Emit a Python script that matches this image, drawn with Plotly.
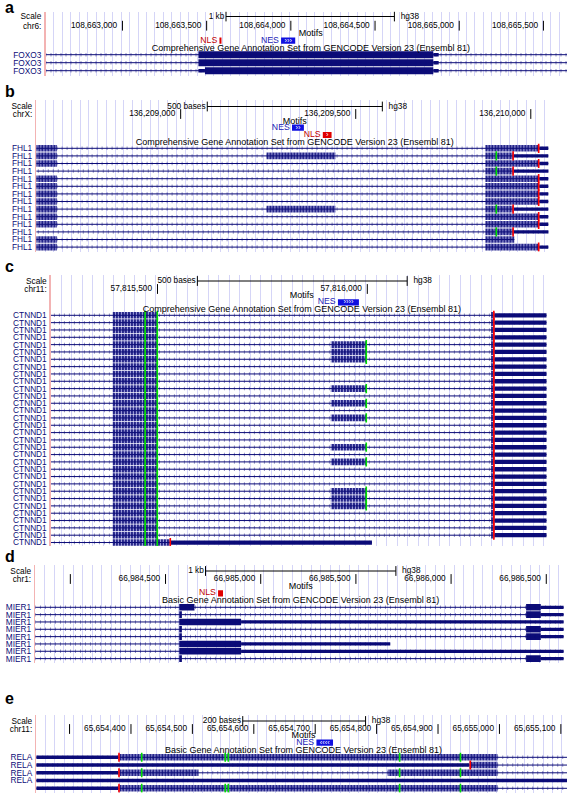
import plotly.graph_objects as go

W, H = 567, 793
NAVY = "#0c0c78"
GRID_COLOR = "#d5d5f7"
PINK = "#f3b3b3"
FONT = "Liberation Sans, Arial, Helvetica, sans-serif"
FS = 8.3
FS_TITLE = 9.0
MOTIF_LABEL_COLORS = {"NLS": "#c00000", "NES": "#1a1ab4"}
MOTIF_BOX_COLORS = {"NLS": "#e00000", "NES": "#1010e0"}
CODON_COLORS = {"M": "#00dd00", "*": "#ff0000"}

# ---------------- Panel a : FOXO3 ----------------
A_CHROM = "chr6:"
A_VIEW = [108662543, 108665640]
A_TICKS = [108663000, 108663500, 108664000, 108664500, 108665000, 108665500]
A_TICK_LABELS = ["108,663,000", "108,663,500", "108,664,000", "108,664,500", "108,665,000", "108,665,500"]
A_SCALE = [108663615, 108664615]
A_SCALE_LABEL = "1 kb"
A_CENTER = 108664119
A_TRACK = "Comprehensive Gene Annotation Set from GENCODE Version 23 (Ensembl 81)"
A_MOTIF_NAMES = ["NLS", "NES"]
A_MOTIF_START = [108663576, 108663942]
A_MOTIF_END = [108663588, 108664026]
A_MOTIF_ROW = [0, 0]
A_MOTIF_GLYPH = ["", "›››"]
A_GENES = ["FOXO3", "FOXO3", "FOXO3"]
A_TX_START = [108559835, 108559835, 108559835]
A_TX_END = [108684774, 108684774, 108684774]
A_CDS_START = [108663451, 108663451, 108663490]
A_CDS_END = [108664846, 108664846, 108664846]
A_EXONS = [[[108663451, 108664878]], [[108663451, 108664878]], [[108663451, 108664878]]]
A_CODONS = []

# ---------------- Panel b : FHL1 ----------------
B_CHROM = "chrX:"
B_VIEW = [136208588, 136210052]
B_TICKS = [136209000, 136209500, 136210000]
B_TICK_LABELS = ["136,209,000", "136,209,500", "136,210,000"]
B_SCALE = [136209076, 136209576]
B_SCALE_LABEL = "500 bases"
B_CENTER = 136209326
B_TRACK = "Comprehensive Gene Annotation Set from GENCODE Version 23 (Ensembl 81)"
B_MOTIF_NAMES = ["NES", "NLS"]
B_MOTIF_START = [136209318, 136209406]
B_MOTIF_END = [136209352, 136209431]
B_MOTIF_ROW = [0, 1]
B_MOTIF_GLYPH = ["››", "›"]
B_GENES = ["FHL1"] * 14
B_TX_START = [136208560, 136208560, 136208560, 136188000, 136208560, 136208560, 136208560,
              136208560, 136208560, 136208560, 136208560, 136188000, 136208560, 136208560]
B_TX_END = [136210050, 136210050, 136210050, 136210050, 136210050, 136210050, 136210050,
            136210050, 136210050, 136210050, 136210050, 136210050, 136209953, 136210050]
B_CDS_START = [136208560, 136208560, 136208560, 136209870, 136208560, 136208560, 136208560,
               136208560, 136208560, 136208560, 136208560, 136209870, 136208560, 136208560]
B_CDS_END = [136210024, 136209951, 136210024, 136209951, 136210024, 136210024, 136210024,
             136210024, 136209951, 136210024, 136210024, 136209951, 136209953, 136210024]
B_EXONS = [
    [[136208560, 136208647], [136209870, 136210050]],
    [[136208560, 136208647], [136209245, 136209442], [136209870, 136210050]],
    [[136208560, 136208647], [136209870, 136210050]],
    [[136209870, 136210050]],
    [[136208560, 136208647], [136209870, 136210050]],
    [[136208560, 136208647], [136209870, 136210050]],
    [[136208560, 136208647], [136209870, 136210050]],
    [[136208560, 136208647], [136209870, 136210050]],
    [[136208560, 136208647], [136209245, 136209442], [136209870, 136210050]],
    [[136208560, 136208647], [136209870, 136210050]],
    [[136208560, 136208647], [136209870, 136210050]],
    [[136209870, 136210050]],
    [[136208560, 136208647], [136209870, 136209953]],
    [[136208560, 136208647], [136209870, 136210050]],
]
B_CODONS = [
    [0, 136210021, "*"], [1, 136209900, "M"], [1, 136209948, "*"], [2, 136210021, "*"],
    [3, 136209900, "M"], [3, 136209948, "*"], [4, 136210021, "*"], [5, 136210021, "*"],
    [6, 136210021, "*"], [7, 136210021, "*"], [8, 136209900, "M"], [8, 136209948, "*"],
    [9, 136210021, "*"], [10, 136210021, "*"], [11, 136209900, "M"], [11, 136209948, "*"],
    [13, 136210021, "*"],
]

# ---------------- Panel c : CTNND1 ----------------
C_CHROM = "chr11:"
C_VIEW = [57815246, 57816427]
C_TICKS = [57815500, 57816000]
C_TICK_LABELS = ["57,815,500", "57,816,000"]
C_SCALE = [57815595, 57816095]
C_SCALE_LABEL = "500 bases"
C_CENTER = 57815844
C_TRACK = "Comprehensive Gene Annotation Set from GENCODE Version 23 (Ensembl 81)"
C_MOTIF_NAMES = ["NES"]
C_MOTIF_START = [57815930]
C_MOTIF_END = [57815980]
C_MOTIF_ROW = [0]
C_MOTIF_GLYPH = ["››››"]
C_GENES = ["CTNND1"] * 32
C_TX_START = [57753000] * 32
C_TX_END = [57818000] * 31 + [57816011]
C_CDS_START = [57815393] * 32
C_CDS_END = [57816303] * 31 + [57815532]
C_MIDDLE_EXON_ROWS = [4, 5, 6, 10, 12, 14, 18, 20, 24, 25, 26]
C_EXON_A = [57815393, 57815501]
C_EXON_B = [57815913, 57815999]
C_EXON_C = [57816295, 57818000]
C_LAST_EXON = [57815393, 57816011]
C_GREEN_A = [57815469, 57815498]
C_GREEN_B = 57815996
C_STOP = [57816300] * 31 + [57815529]

# ---------------- Panel d : MIER1 ----------------
D_CHROM = "chr1:"
D_VIEW = [66983816, 66986591]
D_TICKS = [66984000, 66984500, 66985000, 66985500, 66986000, 66986500]
D_TICK_LABELS = ["", "66,984,500", "66,985,000", "66,985,500", "66,986,000", "66,986,500"]
D_SCALE = [66984710, 66985710]
D_SCALE_LABEL = "1 kb"
D_CENTER = 66985210
D_TRACK = "Basic Gene Annotation Set from GENCODE Version 23 (Ensembl 81)"
D_MOTIF_NAMES = ["NLS"]
D_MOTIF_START = [66984776]
D_MOTIF_END = [66984802]
D_MOTIF_ROW = [0]
D_MOTIF_GLYPH = [""]
D_GENES = ["MIER1"] * 8
D_TX_START = [66983000] * 8
D_TX_END = [66987500, 66987500, 66987500, 66987500, 66987500, 66985680, 66987500, 66987500]
D_CDS_START = [66984572] * 8
D_CDS_END = [66986471, 66986471, 66984897, 66986471, 66986471, 66984897, 66984897, 66986471]
D_EXONS = [
    [[66984572, 66984652], [66986394, 66987500]],
    [[66984572, 66984586], [66986394, 66987500]],
    [[66984572, 66987500]],
    [[66984572, 66984586], [66986394, 66987500]],
    [[66984572, 66984586], [66986394, 66987500]],
    [[66984572, 66985680]],
    [[66984572, 66987500]],
    [[66984572, 66984586], [66986394, 66987500]],
]
D_CODONS = []

# ---------------- Panel e : RELA ----------------
E_CHROM = "chr11:"
E_VIEW = [65654246, 65655110]
E_TICKS = [65654300, 65654400, 65654500, 65654600, 65654700, 65654800, 65654900, 65655000, 65655100]
E_TICK_LABELS = ["", "65,654,400", "65,654,500", "65,654,600", "65,654,700", "65,654,800",
                 "65,654,900", "65,655,000", "65,655,100"]
E_SCALE = [65654582, 65654782]
E_SCALE_LABEL = "200 bases"
E_CENTER = 65654681
E_TRACK = "Basic Gene Annotation Set from GENCODE Version 23 (Ensembl 81)"
E_MOTIF_NAMES = ["NES"]
E_MOTIF_START = [65654702]
E_MOTIF_END = [65654729]
E_MOTIF_ROW = [0]
E_MOTIF_GLYPH = ["‹‹‹‹"]
E_GENES = ["RELA"] * 5
E_TX_START = [65653596] * 5
E_TX_END = [65663090] * 5
E_CDS_START = [65654379, 65654951, 65654379, 65656000, 65654379]
E_CDS_END = [65654997, 65654997, 65654997, 65656000, 65654997]
E_EXONS = [
    [[65653596, 65654997]],
    [[65653596, 65654997]],
    [[65653596, 65654510], [65654818, 65654997]],
    [[65653596, 65656000]],
    [[65653596, 65654997]],
]
E_CODONS = [
    [0, 65654379, "*"], [0, 65654416, "M"], [0, 65654552, "M"], [0, 65654557, "M"],
    [0, 65654836, "M"], [0, 65654935, "M"],
    [1, 65654951, "*"],
    [2, 65654379, "*"], [2, 65654416, "M"], [2, 65654836, "M"], [2, 65654935, "M"],
    [4, 65654379, "*"], [4, 65654416, "M"], [4, 65654552, "M"], [4, 65654557, "M"],
    [4, 65654836, "M"], [4, 65654935, "M"],
]

# build panel c exon / codon tables from its small arrays
C_EXONS = []
C_CODONS = []
for r in range(len(C_GENES)):
    if r == len(C_GENES) - 1:
        C_EXONS.append([C_LAST_EXON])
    else:
        ex = [C_EXON_A]
        if r in C_MIDDLE_EXON_ROWS:
            ex.append(C_EXON_B)
        ex.append(C_EXON_C)
        C_EXONS.append(ex)
    for g in C_GREEN_A:
        C_CODONS.append([r, g, "M"])
    if r in C_MIDDLE_EXON_ROWS:
        C_CODONS.append([r, C_GREEN_B, "M"])
    C_CODONS.append([r, C_STOP[r], "*"])

# ---------------- layout (pixel boxes) ----------------
SPECS = [
    dict(letter="a", letter_y=8, x0=45.5, x1=567, top=11.5, bottom=76, scale_y=16.5, chr_y=25.7,
         motif_lbl_y=33.5, motif_rows=[40.7], title_y=48.7, gene0=54.7, step=8.0,
         cds_h=7.0, utr_h=3.4, striped=False, grid_bp=50),
    dict(letter="b", letter_y=92, x0=36.4, x1=549, top=100, bottom=251.5, scale_y=106.5, chr_y=114,
         motif_lbl_y=121.5, motif_rows=[127.7, 135], title_y=142.7, gene0=148.3, step=7.6,
         cds_h=6.6, utr_h=3.4, striped=True, grid_bp=25),
    dict(letter="c", letter_y=267, x0=50.9, x1=546.5, top=275, bottom=546, scale_y=281, chr_y=289,
         motif_lbl_y=296, motif_rows=[302.3], title_y=309.5, gene0=315.3, step=7.33,
         cds_h=6.6, utr_h=4.3, striped=True, grid_bp=25),
    dict(letter="d", letter_y=556, x0=35.3, x1=563.6, top=565, bottom=662.5, scale_y=571, chr_y=579,
         motif_lbl_y=586.7, motif_rows=[593.3], title_y=600.7, gene0=607.3, step=7.33,
         cds_h=6.6, utr_h=3.3, striped=False, grid_bp=50),
    dict(letter="e", letter_y=698, x0=36.4, x1=567, top=715, bottom=792.5, scale_y=721, chr_y=729,
         motif_lbl_y=736, motif_rows=[742.7], title_y=750.7, gene0=757.3, step=7.75,
         cds_h=6.4, utr_h=3.6, striped=True, grid_bp=15),
]

DATA = [
    dict(chrom=A_CHROM, view=A_VIEW, ticks=A_TICKS, tick_labels=A_TICK_LABELS, scale=A_SCALE,
         scale_label=A_SCALE_LABEL, center=A_CENTER, track=A_TRACK, m_names=A_MOTIF_NAMES,
         m_start=A_MOTIF_START, m_end=A_MOTIF_END, m_row=A_MOTIF_ROW, m_glyph=A_MOTIF_GLYPH,
         genes=A_GENES, tx_start=A_TX_START, tx_end=A_TX_END, cds_start=A_CDS_START,
         cds_end=A_CDS_END, exons=A_EXONS, codons=A_CODONS),
    dict(chrom=B_CHROM, view=B_VIEW, ticks=B_TICKS, tick_labels=B_TICK_LABELS, scale=B_SCALE,
         scale_label=B_SCALE_LABEL, center=B_CENTER, track=B_TRACK, m_names=B_MOTIF_NAMES,
         m_start=B_MOTIF_START, m_end=B_MOTIF_END, m_row=B_MOTIF_ROW, m_glyph=B_MOTIF_GLYPH,
         genes=B_GENES, tx_start=B_TX_START, tx_end=B_TX_END, cds_start=B_CDS_START,
         cds_end=B_CDS_END, exons=B_EXONS, codons=B_CODONS),
    dict(chrom=C_CHROM, view=C_VIEW, ticks=C_TICKS, tick_labels=C_TICK_LABELS, scale=C_SCALE,
         scale_label=C_SCALE_LABEL, center=C_CENTER, track=C_TRACK, m_names=C_MOTIF_NAMES,
         m_start=C_MOTIF_START, m_end=C_MOTIF_END, m_row=C_MOTIF_ROW, m_glyph=C_MOTIF_GLYPH,
         genes=C_GENES, tx_start=C_TX_START, tx_end=C_TX_END, cds_start=C_CDS_START,
         cds_end=C_CDS_END, exons=C_EXONS, codons=C_CODONS),
    dict(chrom=D_CHROM, view=D_VIEW, ticks=D_TICKS, tick_labels=D_TICK_LABELS, scale=D_SCALE,
         scale_label=D_SCALE_LABEL, center=D_CENTER, track=D_TRACK, m_names=D_MOTIF_NAMES,
         m_start=D_MOTIF_START, m_end=D_MOTIF_END, m_row=D_MOTIF_ROW, m_glyph=D_MOTIF_GLYPH,
         genes=D_GENES, tx_start=D_TX_START, tx_end=D_TX_END, cds_start=D_CDS_START,
         cds_end=D_CDS_END, exons=D_EXONS, codons=D_CODONS),
    dict(chrom=E_CHROM, view=E_VIEW, ticks=E_TICKS, tick_labels=E_TICK_LABELS, scale=E_SCALE,
         scale_label=E_SCALE_LABEL, center=E_CENTER, track=E_TRACK, m_names=E_MOTIF_NAMES,
         m_start=E_MOTIF_START, m_end=E_MOTIF_END, m_row=E_MOTIF_ROW, m_glyph=E_MOTIF_GLYPH,
         genes=E_GENES, tx_start=E_TX_START, tx_end=E_TX_END, cds_start=E_CDS_START,
         cds_end=E_CDS_END, exons=E_EXONS, codons=E_CODONS),
]

fig = go.Figure()
axes = {}
annotations = []
NB = "\u00a0"

for i, (spec, d) in enumerate(zip(SPECS, DATA), start=1):
    xa = "x" if i == 1 else f"x{i}"
    ya = "y" if i == 1 else f"y{i}"
    common = dict(xaxis=xa, yaxis=ya, hoverinfo="skip", showlegend=False)
    rows_y = [spec["gene0"] + k * spec["step"] for k in range(len(d["genes"]))]

    # introns
    ix, iy = [], []
    for k, (s, e) in enumerate(zip(d["tx_start"], d["tx_end"])):
        ix += [s, e, None]
        iy += [rows_y[k], rows_y[k], None]
    fig.add_trace(go.Scatter(x=ix, y=iy, mode="lines", line=dict(color=NAVY, width=1), **common))
    fig.add_trace(go.Scatter(x=ix, y=iy, mode="lines",
                             line=dict(color="rgba(12,12,120,0.45)", width=3.5, dash="1px,4px"), **common))

    # exons split into CDS / UTR
    cb, cl, cy, ub, ul, uy = [], [], [], [], [], []
    for k, exons in enumerate(d["exons"]):
        cs, ce = d["cds_start"][k], d["cds_end"][k]
        for s, e in exons:
            if cs >= ce:
                ub.append(s); ul.append(e - s); uy.append(rows_y[k])
                continue
            if s < cs:
                ub.append(s); ul.append(min(e, cs) - s); uy.append(rows_y[k])
            if e > ce:
                a0 = max(s, ce)
                ub.append(a0); ul.append(e - a0); uy.append(rows_y[k])
            a0, b0 = max(s, cs), min(e, ce)
            if b0 > a0:
                cb.append(a0); cl.append(b0 - a0); cy.append(rows_y[k])
    if ub:
        fig.add_trace(go.Bar(orientation="h", base=ub, x=ul, y=uy, width=spec["utr_h"],
                             marker=dict(color=NAVY, line=dict(width=0)), **common))
    if cb:
        mk = dict(color=NAVY, line=dict(width=0))
        if spec["striped"]:
            mk["pattern"] = dict(shape="|", size=3, solidity=0.45, fgcolor="#a4a4de",
                                 bgcolor=NAVY, fillmode="replace")
        fig.add_trace(go.Bar(orientation="h", base=cb, x=cl, y=cy, width=spec["cds_h"],
                             marker=mk, **common))

    # codon colouring
    for kind in ("M", "*"):
        pts = [c for c in d["codons"] if c[2] == kind]
        if pts:
            fig.add_trace(go.Scatter(
                x=[c[1] + 1.5 for c in pts], y=[rows_y[c[0]] for c in pts], mode="markers",
                marker=dict(symbol="line-ns", size=spec["cds_h"],
                            line=dict(color=CODON_COLORS[kind], width=1.6)), **common))

    # motifs
    my = [spec["motif_rows"][r] for r in d["m_row"]]
    fig.add_trace(go.Bar(orientation="h", base=d["m_start"],
                         x=[e - s for s, e in zip(d["m_start"], d["m_end"])], y=my, width=6.2,
                         marker=dict(color=[MOTIF_BOX_COLORS[n] for n in d["m_names"]], line=dict(width=0)),
                         **common))
    gx = [(s + e) / 2 for s, e, g in zip(d["m_start"], d["m_end"], d["m_glyph"]) if g]
    gy = [y for y, g in zip(my, d["m_glyph"]) if g]
    gt = [g for g in d["m_glyph"] if g]
    if gt:
        fig.add_trace(go.Scatter(x=gx, y=gy, mode="text", text=gt, textposition="middle center",
                                 textfont=dict(family=FONT, size=7.5, color="white"), **common))
    fig.add_trace(go.Scatter(x=d["m_start"], y=my, mode="markers+text", text=d["m_names"],
                             textposition="middle left", cliponaxis=False,
                             marker=dict(size=2, color="rgba(0,0,0,0)"),
                             textfont=dict(family=FONT, size=FS + 0.4,
                                           color=[MOTIF_LABEL_COLORS[n] for n in d["m_names"]]),
                             **common))

    # position ruler ticks
    fig.add_trace(go.Scatter(x=d["ticks"], y=[spec["chr_y"]] * len(d["ticks"]), mode="markers",
                             marker=dict(symbol="line-ns", size=7, line=dict(color="black", width=1)),
                             **common))
    lx = [t for t, lab in zip(d["ticks"], d["tick_labels"]) if lab]
    lt = [lab for lab in d["tick_labels"] if lab]
    fig.add_trace(go.Scatter(x=lx, y=[spec["chr_y"]] * len(lx), mode="markers+text",
                             text=lt, textposition="middle left", cliponaxis=False,
                             marker=dict(size=7, color="rgba(0,0,0,0)"),
                             textfont=dict(family=FONT, size=FS, color="black"), **common))
    # scale bar
    fig.add_trace(go.Scatter(x=d["scale"], y=[spec["scale_y"]] * 2, mode="lines+markers",
                             line=dict(color="black", width=1),
                             marker=dict(symbol="line-ns", size=7, line=dict(color="black", width=1)),
                             **common))
    fig.add_trace(go.Scatter(x=d["scale"], y=[spec["scale_y"]] * 2, mode="markers+text",
                             text=[d["scale_label"], NB + NB + "hg38"],
                             textposition=["middle left", "middle right"], cliponaxis=False,
                             marker=dict(size=1, color="rgba(0,0,0,0)"),
                             textfont=dict(family=FONT, size=FS, color="black"), **common))
    # Motifs label and track title
    fig.add_trace(go.Scatter(x=[d["center"], d["center"]], y=[spec["motif_lbl_y"], spec["title_y"]],
                             mode="text", text=["Motifs", d["track"]], textposition="middle center",
                             cliponaxis=False, textfont=dict(family=FONT, size=FS_TITLE, color="black"),
                             **common))

    tickvals = [spec["scale_y"], spec["chr_y"]] + rows_y
    ticktext = ['<span style="color:#000000">Scale</span>',
                '<span style="color:#000000">' + d["chrom"] + '</span>'] + d["genes"]
    xname = "xaxis" if i == 1 else f"xaxis{i}"
    yname = "yaxis" if i == 1 else f"yaxis{i}"
    axes[xname] = dict(domain=[spec["x0"] / W, spec["x1"] / W], range=d["view"], anchor=ya,
                       showgrid=True, gridcolor=GRID_COLOR, gridwidth=1, dtick=spec["grid_bp"],
                       tick0=d["view"][0], showticklabels=False, ticks="", zeroline=False,
                       showline=False, fixedrange=True)
    axes[yname] = dict(domain=[1 - spec["bottom"] / H, 1 - spec["top"] / H],
                       range=[spec["bottom"], spec["top"]], anchor=xa, tickmode="array",
                       tickvals=tickvals, ticktext=ticktext,
                       tickfont=dict(family=FONT, size=FS, color=NAVY), ticks="",
                       showgrid=False, zeroline=False, showline=True, linecolor=PINK,
                       linewidth=1.5, ticklabelstandoff=1, fixedrange=True)
    annotations.append(dict(text="<b>" + spec["letter"] + "</b>", xref="paper", yref="paper",
                            x=3 / W, y=1 - spec["letter_y"] / H, xanchor="left", yanchor="middle",
                            showarrow=False, font=dict(family=FONT, size=16, color="black")))

fig.update_layout(width=W, height=H, autosize=False, margin=dict(l=0, r=0, t=0, b=0),
                  paper_bgcolor="white", plot_bgcolor="white", barmode="overlay",
                  showlegend=False, hovermode=False, annotations=annotations, **axes)

fig.write_html("out.html", config={"displayModeBar": False, "staticPlot": True},
               post_script="document.body.style.margin='0px';document.body.style.padding='0px';")
